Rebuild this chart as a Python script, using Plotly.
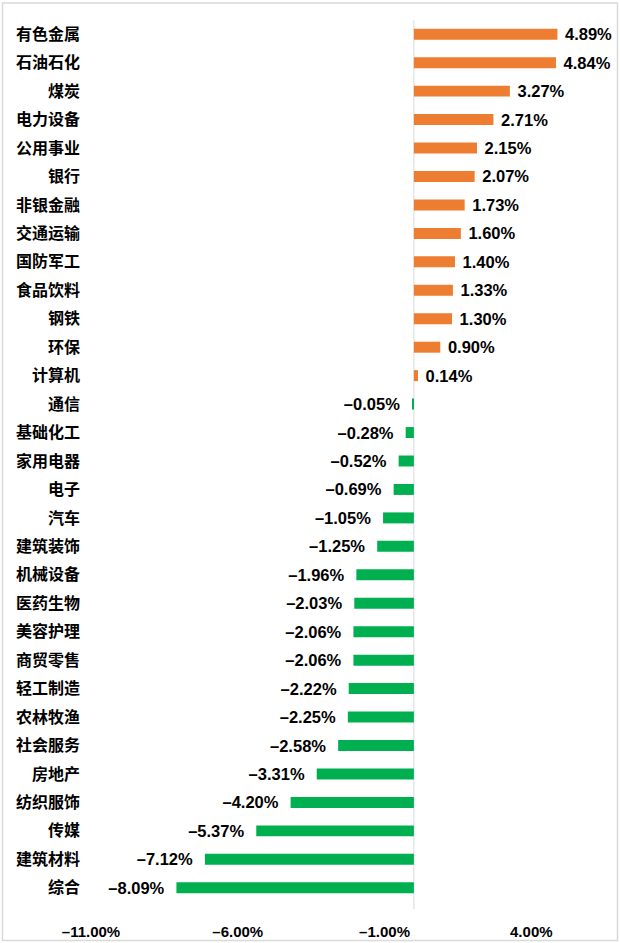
import plotly.graph_objects as go

# 行业涨跌幅
industries = ["有色金属", "石油石化", "煤炭", "电力设备", "公用事业", "银行", "非银金融",
              "交通运输", "国防军工", "食品饮料", "钢铁", "环保", "计算机", "通信",
              "基础化工", "家用电器", "电子", "汽车", "建筑装饰", "机械设备", "医药生物",
              "美容护理", "商贸零售", "轻工制造", "农林牧渔", "社会服务", "房地产",
              "纺织服饰", "传媒", "建筑材料", "综合"]
changes = [4.89, 4.84, 3.27, 2.71, 2.15, 2.07, 1.73, 1.60, 1.40, 1.33, 1.30, 0.90, 0.14,
           -0.05, -0.28, -0.52, -0.69, -1.05, -1.25, -1.96, -2.03, -2.06, -2.06, -2.22,
           -2.25, -2.58, -3.31, -4.20, -5.37, -7.12, -8.09]
tick_vals = [-11, -6, -1, 4]

def fmt(v):
    return f"{v:.2f}%".replace("-", "–")

colors = ["#ED7D31" if v > 0 else "#00B050" for v in changes]
labels = ["\u00a0" + fmt(v) if v > 0 else fmt(v) + "\u00a0\u00a0" for v in changes]

W, H = 620, 943
ml, mr, mt, mb = 91, 30, 19.5, 41

fig = go.Figure()
fig.add_trace(go.Bar(
    y=industries, x=changes, orientation="h",
    marker=dict(color=colors, line_width=0),
    width=0.386,
    text=labels, textposition="outside",
    textfont=dict(family="Liberation Sans, Arial", size=16.5, color="black", weight="bold"),
    cliponaxis=False, constraintext="none",
    hoverinfo="skip",
))

fig.update_layout(
    width=W, height=H,
    margin=dict(l=ml, r=mr, t=mt, b=mb, autoexpand=False),
    plot_bgcolor="white", paper_bgcolor="white",
    showlegend=False,
    xaxis=dict(
        range=[-11, 6], tickvals=tick_vals, ticktext=[fmt(v) for v in tick_vals],
        showgrid=False, zeroline=False,
        showline=False, ticks="", ticklabelstandoff=19, automargin=False,
        tickfont=dict(family="Liberation Sans, Arial", size=15, color="black", weight="bold"),
    ),
    yaxis=dict(
        autorange="reversed", showgrid=False, showline=False, ticks="",
        ticklabelstandoff=10, automargin=False,
        tickfont=dict(family="Noto Sans CJK SC", size=16, color="black", weight="bold"),
    ),
)

pw, ph = W - ml - mr, H - mt - mb
# 零轴竖线
fig.add_shape(type="line", xref="x", yref="paper", x0=0, x1=0,
              y0=-7 / ph, y1=1, line=dict(color="#D9D9D9", width=1), layer="below")
# 外边框
fig.add_shape(type="rect", xref="paper", yref="paper",
              x0=(2.5 - ml) / pw, x1=(617.5 - ml) / pw,
              y0=(H - 940.5 - mb) / ph, y1=(H - 2.5 - mb) / ph,
              line=dict(color="#D9D9D9", width=1.5), fillcolor="rgba(0,0,0,0)")

fig.write_html("out.html", config={"displayModeBar": False},
               post_script="document.body.style.margin='0';document.body.style.overflow='hidden';")
